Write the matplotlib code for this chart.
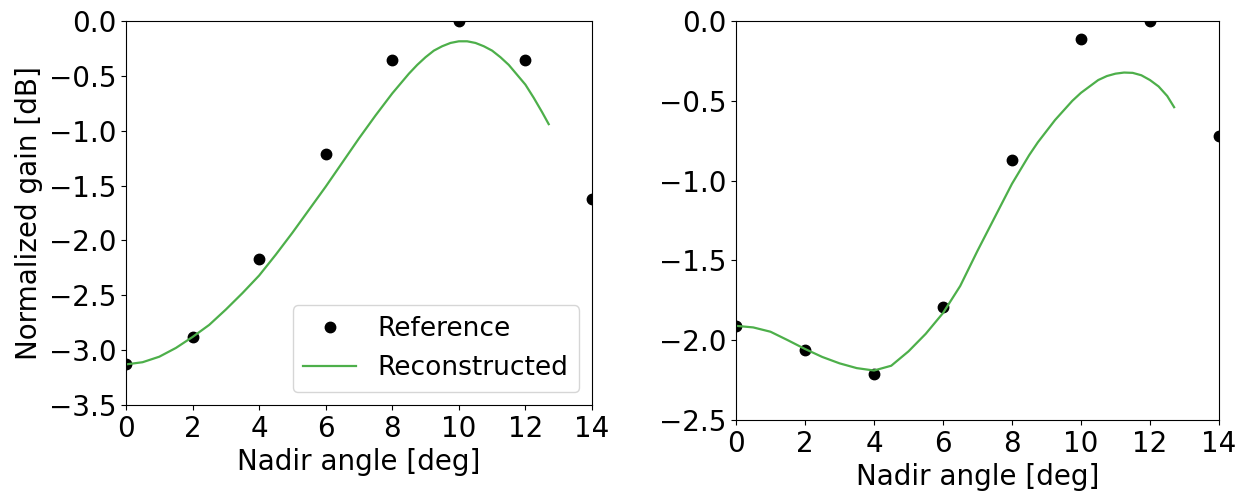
import matplotlib
matplotlib.use("Agg")
import matplotlib.pyplot as plt

# reference samples (deg, dB)
ref_x = [0, 2, 4, 6, 8, 10, 12, 14]
ref_left = [-3.13, -2.88, -2.17, -1.21, -0.36, 0.0, -0.36, -1.62]
ref_right = [-1.91, -2.06, -2.21, -1.79, -0.87, -0.11, 0.0, -0.72]

# reconstructed curves
rec_x = [0, 0.5, 1, 1.5, 2, 2.5, 3, 3.5, 4, 4.5, 5, 5.5, 6, 6.5, 7, 7.5,
         8, 8.25, 8.5, 8.75, 9, 9.25, 9.5, 9.75, 10, 10.25, 10.5, 10.75,
         11, 11.25, 11.5, 11.75, 12, 12.25, 12.5, 12.7]
rec_left = [-3.13, -3.11, -3.06, -2.98, -2.88, -2.77, -2.63, -2.48, -2.32,
            -2.13, -1.93, -1.72, -1.51, -1.29, -1.07, -0.86, -0.66, -0.57,
            -0.48, -0.40, -0.33, -0.27, -0.23, -0.20, -0.185, -0.185, -0.20,
            -0.23, -0.27, -0.33, -0.40, -0.49, -0.58, -0.70, -0.83, -0.94]
rec_right = [-1.91, -1.92, -1.947, -2.00, -2.055, -2.105, -2.145, -2.175,
             -2.19, -2.16, -2.07, -1.96, -1.83, -1.66, -1.44, -1.23, -1.02,
             -0.93, -0.84, -0.76, -0.69, -0.62, -0.56, -0.50, -0.45, -0.41,
             -0.37, -0.345, -0.33, -0.323, -0.325, -0.34, -0.37, -0.41,
             -0.47, -0.54]

green = "#4daf4a"
fs = 20

fig = plt.figure(figsize=(12.46, 4.93), dpi=100)
ax1 = fig.add_axes([0.1011, 0.1785, 0.374, 0.7789])
ax2 = fig.add_axes([0.5907, 0.1481, 0.3876, 0.8093])

ax1.plot(ref_x, ref_left, "o", color="black", ms=7.5, label="Reference")
ax1.plot(rec_x, rec_left, "-", color=green, lw=1.6, label="Reconstructed")
ax1.set_xlim(0, 14)
ax1.set_ylim(-3.5, 0)
ax1.set_yticks([-3.5, -3.0, -2.5, -2.0, -1.5, -1.0, -0.5, 0.0])
ax1.set_xlabel("Nadir angle [deg]", fontsize=fs)
ax1.set_ylabel("Normalized gain [dB]", fontsize=fs)
ax1.legend(loc="lower right", fontsize=fs - 1)

ax2.plot(ref_x, ref_right, "o", color="black", ms=7.5)
ax2.plot(rec_x, rec_right, "-", color=green, lw=1.6)
ax2.set_xlim(0, 14)
ax2.set_ylim(-2.5, 0)
ax2.set_xlabel("Nadir angle [deg]", fontsize=fs)

for ax in (ax1, ax2):
    ax.set_xticks([0, 2, 4, 6, 8, 10, 12, 14])
    ax.tick_params(labelsize=fs)

fig.savefig("out.png", dpi=100)
